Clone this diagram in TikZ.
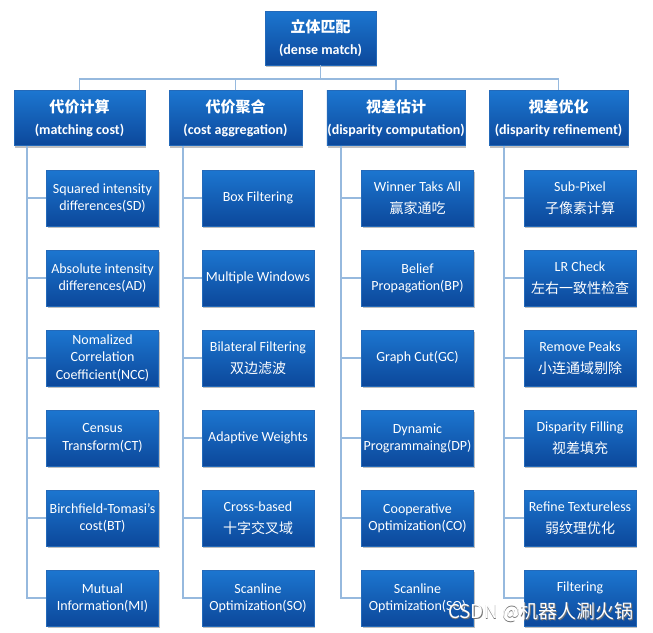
\documentclass[tikz,border=0pt]{standalone}
\usepackage{fontspec}
\setmainfont{Carlito}
\newfontfamily\cjk{Noto Sans CJK SC}
\usetikzlibrary{shadows}
\definecolor{boxtop}{RGB}{28,118,208}
\definecolor{boxbot}{RGB}{12,72,155}
\definecolor{boxedge}{RGB}{35,105,185}
\definecolor{connc}{RGB}{150,185,222}
\newcommand{\zhline}[1]{\\[5pt]{\cjk #1}}
\begin{document}
\begin{tikzpicture}[x=1pt,y=-1pt,
  box/.style={rectangle, draw=boxedge, line width=0.4pt, top color=boxtop, bottom color=boxbot,
    text=white, align=center,
    drop shadow={shadow xshift=1.2pt, shadow yshift=-2pt, opacity=0.35, fill=black!70}},
  leaf/.style={box, minimum width=112pt, minimum height=56pt, inner xsep=0.5pt,
    font=\fontsize{14}{17.2}\selectfont},
  head/.style={box, minimum height=55pt, inner xsep=0.5pt,
    font=\bfseries\fontsize{14}{22}\selectfont},
  link/.style={draw=connc, line width=1.2pt}]
\useasboundingbox (0,0) rectangle (653,632);
\fill[white] (0,0) rectangle (653,632);

% top
\node[head, minimum width=111pt, minimum height=54pt] (top) at (320.5,38) {{\cjk\bfseries\fontsize{15}{22}\selectfont 立体匹配}\\(dense match)};

% headers
\node[head, minimum width=131pt] (h1) at (79.5,118) {{\cjk\bfseries\fontsize{15}{22}\selectfont 代价计算}\\(matching cost)};
\node[head, minimum width=133pt] (h2) at (235.5,118) {{\cjk\bfseries\fontsize{15}{22}\selectfont 代价聚合}\\(cost aggregation)};
\node[head, minimum width=138pt] (h3) at (396,118) {{\cjk\bfseries\fontsize{15}{22}\selectfont 视差估计}\\(disparity computation)};
\node[head, minimum width=139pt] (h4) at (558.5,118) {{\cjk\bfseries\fontsize{15}{22}\selectfont 视差优化}\\(disparity refinement)};

% column 1
\node[leaf] (a1) at (102.5,198) {Squared intensity\\differences(SD)};
\node[leaf] (a2) at (102.5,278) {Absolute intensity\\differences(AD)};
\node[leaf] (a3) at (102.5,358) {Nomalized\\Correlation\\Coefficient(NCC)};
\node[leaf] (a4) at (102.5,438) {Census\\Transform(CT)};
\node[leaf] (a5) at (102.5,518) {Birchfield-Tomasi's\\cost(BT)};
\node[leaf] (a6) at (102.5,598) {Mutual\\Information(MI)};

% column 2
\node[leaf] (b1) at (258,198) {Box Filtering};
\node[leaf] (b2) at (258,278) {Multiple Windows};
\node[leaf] (b3) at (258,358) {Bilateral Filtering\zhline{双边滤波}};
\node[leaf] (b4) at (258,438) {Adaptive Weights};
\node[leaf] (b5) at (258,518) {Cross-based\zhline{十字交叉域}};
\node[leaf] (b6) at (258,598) {Scanline\\Optimization(SO)};

% column 3
\node[leaf] (c1) at (417.5,198) {Winner Taks All\zhline{赢家通吃}};
\node[leaf] (c2) at (417.5,278) {Belief\\Propagation(BP)};
\node[leaf] (c3) at (417.5,358) {Graph Cut(GC)};
\node[leaf] (c4) at (417.5,438) {Dynamic\\Programmaing(DP)};
\node[leaf] (c5) at (417.5,518) {Cooperative\\Optimization(CO)};
\node[leaf] (c6) at (417.5,598) {Scanline\\Optimization(SO)};

% column 4
\node[leaf] (d1) at (580,198) {Sub-Pixel\zhline{子像素计算}};
\node[leaf] (d2) at (580,278) {LR Check\zhline{左右一致性检查}};
\node[leaf] (d3) at (580,358) {Remove Peaks\zhline{小连通域剔除}};
\node[leaf] (d4) at (580,438) {Disparity Filling\zhline{视差填充}};
\node[leaf] (d5) at (580,518) {Refine Textureless\zhline{弱纹理优化}};
\node[leaf] (d6) at (580,598) {Filtering\\[5pt]\mbox{}};

% top connectors
\coordinate (bus) at (320.5,79);
\draw[link] (top.south) -- (bus);
\draw[link] (h1.north) -- (h1.north |- bus) -- (h4.north |- bus) -- (h4.north);
\draw[link] (h2.north) -- (h2.north |- bus);
\draw[link] (h3.north) -- (h3.north |- bus);

% column trunks
\coordinate (t1) at (27,145.5);
\coordinate (t2) at (183,145.5);
\coordinate (t3) at (341,145.5);
\coordinate (t4) at (504,145.5);
\draw[link] (t1) |- (a6.west);
\draw[link] (t2) |- (b6.west);
\draw[link] (t3) |- (c6.west);
\draw[link] (t4) |- (d6.west);
\foreach \i in {1,...,5} {
  \draw[link] (t1 |- a\i.west) -- (a\i.west);
  \draw[link] (t2 |- b\i.west) -- (b\i.west);
  \draw[link] (t3 |- c\i.west) -- (c\i.west);
  \draw[link] (t4 |- d\i.west) -- (d\i.west);
}

% watermark
\node[text=black!55, font=\cjk\fontsize{19}{19}\selectfont] at (541.8,612.8) {CSDN @机器人涮火锅};
\node[text=white, font=\cjk\fontsize{19}{19}\selectfont] (wm) at (541,612) {CSDN @机器人涮火锅};
\end{tikzpicture}
\end{document}
